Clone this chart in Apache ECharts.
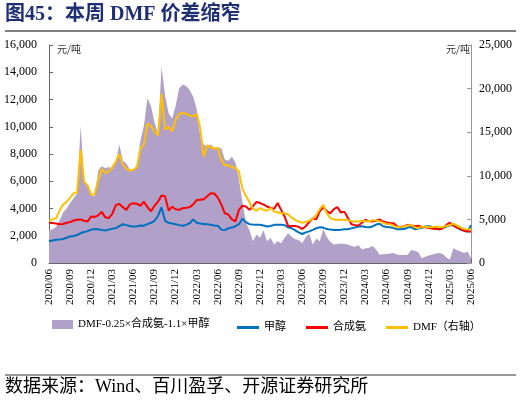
<!DOCTYPE html>
<html><head><meta charset="utf-8">
<script src="https://cdn.jsdelivr.net/npm/echarts@6/dist/echarts.min.js"></script>
<style>html,body{margin:0;padding:0;background:#fff}#c{width:521px;height:405px}</style>
</head><body><div id="c"></div>
<script>
var quarterLabels = ['2020/06','2020/09','2020/12','2021/03','2021/06','2021/09','2021/12','2022/03','2022/06','2022/09','2022/12','2023/03','2023/06','2023/09','2023/12','2024/03','2024/06','2024/09','2024/12','2025/03','2025/06'];

var spread = [2430,2450,2650,3100,3700,4000,4400,4750,5100,10100,6000,5600,5000,4900,6800,7100,6950,7050,6900,7400,8700,7500,7300,6850,6850,7200,9000,10100,12100,11500,10300,9500,14400,12300,11000,10600,11500,12800,13100,13000,12700,12200,11300,9300,8700,8550,8700,8450,8500,8400,7600,7500,7800,7400,6200,4500,3000,2400,1600,2100,1850,2400,1600,1850,1350,1600,1450,1850,2180,1930,1750,1680,1450,1900,2150,1350,1800,1600,2500,1900,1550,1350,1400,1440,1400,1350,1250,1200,1300,1000,1080,1120,1250,1000,600,650,660,700,730,600,590,580,600,950,900,780,350,450,550,620,700,730,660,400,250,1080,960,850,730,850,340];

var methanol = [1600,1650,1700,1730,1760,1850,1950,1980,2050,2200,2280,2350,2450,2500,2480,2420,2380,2450,2520,2560,2700,2850,2780,2720,2680,2700,2750,2740,2850,2950,3100,3450,4100,3100,2950,2900,2850,2780,2740,2800,2920,3200,2950,2900,2870,2840,2800,2760,2740,2450,2420,2550,2600,2700,2850,3250,3000,2850,2820,2800,2800,2750,2680,2720,2800,2800,2800,2780,2620,2550,2400,2250,2130,2250,2320,2430,2550,2620,2600,2490,2450,2430,2430,2440,2470,2480,2540,2600,2680,2700,2650,2620,2680,2820,2880,2700,2650,2620,2560,2480,2480,2490,2600,2640,2480,2530,2580,2680,2700,2640,2580,2480,2560,2670,2760,2780,2620,2450,2360,2300,2780];

var syngas = [2960,2930,2900,2850,2860,2950,3000,3120,3180,3200,3100,3050,3420,3380,3500,3750,3350,3300,3600,4250,4330,4100,3900,4300,4380,4350,4200,4500,4100,3800,4200,4500,4950,4900,3850,4140,3950,3900,4020,4050,4100,4300,4620,4650,4680,4900,5120,5100,4800,4300,3650,3560,3200,3050,3900,4200,4150,3900,4180,4480,4400,4280,4150,4050,3970,4400,3900,3400,2700,2720,2720,2650,2500,2700,3000,3280,3200,3800,4100,3800,3650,3950,4100,3700,3770,3300,2850,2780,2750,2950,3180,3060,3040,3100,3200,3040,2970,2940,2920,2680,2650,2700,2800,2760,2700,2740,2650,2620,2570,2530,2500,2480,2550,2800,2960,2750,2600,2500,2370,2330,2300];

var dmf = [4850,5000,5150,6000,6700,7000,7500,8000,8100,13000,9300,8900,7800,7900,9500,10800,10300,10500,11000,11600,12500,11300,10800,10600,10700,11000,13100,13600,16000,15700,15100,14600,19400,15300,15600,15100,16400,17100,17200,17100,16900,16800,17100,15500,12200,13500,13300,13100,13200,11800,11200,11200,11000,10900,10500,8500,7700,7000,6200,6000,6300,6100,6000,6300,5900,5800,5700,5700,5600,5200,4950,4750,4600,4700,4850,5100,5500,6200,6650,5700,5150,4980,4950,4950,4950,4900,4800,4750,4760,4850,4780,4780,4900,4880,4800,4620,4480,4450,4250,4100,4150,4200,4300,4350,4100,4000,4150,4150,4100,4120,4170,4150,4090,4250,4360,4500,4300,4090,3900,3860,3850];

var seriesNames = ['DMF-0.25×合成氨-1.1×甲醇','甲醇','合成氨','DMF（右轴）'];

var categories = [];
for (var i = 0; i < spread.length; i++) {
  categories.push(i % 6 === 0 ? quarterLabels[i / 6] : 'w' + i);
}

var serif = '"Liberation Serif","Times New Roman","Noto Sans CJK SC",serif';
var chart = echarts.init(document.getElementById('c'), null, {renderer: 'canvas'});
chart.setOption({
  animation: false,
  backgroundColor: '#fff',
  grid: {left: 49, right: 50, top: 45, bottom: 142, containLabel: false},
  graphic: [
    {type: 'text', left: 5, top: 5, style: {text: '图45：本周 DMF 价差缩窄', font: 'bold 20px "Liberation Serif", "Noto Sans CJK SC", serif', fill: '#1F2F74'}},
    {type: 'line', shape: {x1: 5, y1: 31, x2: 516, y2: 31}, style: {stroke: '#555', lineWidth: 1.5}},
    {type: 'line', shape: {x1: 5, y1: 375, x2: 516, y2: 375}, style: {stroke: '#333', lineWidth: 1}},
    {type: 'text', left: 5, top: 378, style: {text: '数据来源：Wind、百川盈孚、开源证券研究所', font: '18px "Liberation Serif", "Noto Sans CJK SC", serif', fill: '#000'}},
    {type: 'text', left: 57, top: 44, style: {text: '元/吨', font: '10px "Noto Sans CJK SC", sans-serif', fill: '#333'}},
    {type: 'text', left: 446, top: 44, style: {text: '元/吨', font: '10px "Noto Sans CJK SC", sans-serif', fill: '#333'}}
  ],
  legend: [
    {data: [{name: seriesNames[0], icon: 'rect'}], left: 47, top: 314, itemWidth: 21, itemHeight: 9, itemGap: 18,
     textStyle: {fontSize: 11, color: '#000', fontFamily: serif}},
    {data: [{name: seriesNames[1], icon: 'rect'}, {name: seriesNames[2], icon: 'rect'}, {name: seriesNames[3], icon: 'rect'}],
     left: 232, top: 317, itemWidth: 22, itemHeight: 3, itemGap: 20,
     textStyle: {fontSize: 11, color: '#000', fontFamily: serif}}
  ],
  xAxis: {
    type: 'category', data: categories, boundaryGap: false,
    axisLine: {lineStyle: {color: '#666', width: 1}},
    axisTick: {inside: true, length: 4, interval: 5, lineStyle: {color: '#666'}},
    axisLabel: {interval: 5, rotate: 90, fontSize: 11, color: '#000', fontFamily: serif, margin: 6,
      formatter: function (v) { return v.charAt(0) === 'w' ? '' : v; }}
  },
  yAxis: [
    {type: 'value', min: 0, max: 16000, interval: 2000,
     axisLine: {show: true, lineStyle: {color: '#666'}},
     axisTick: {show: true, inside: true, length: 4, lineStyle: {color: '#666'}},
     splitLine: {show: false},
     axisLabel: {fontSize: 12, color: '#000', fontFamily: serif, margin: 12,
       formatter: function (v) { return v.toLocaleString('en-US'); }}},
    {type: 'value', min: 0, max: 25000, interval: 5000, position: 'right',
     axisLine: {show: true, lineStyle: {color: '#999'}},
     axisTick: {show: true, inside: true, length: 4, lineStyle: {color: '#999'}},
     splitLine: {show: false},
     axisLabel: {fontSize: 12, color: '#000', fontFamily: serif, margin: 8,
       formatter: function (v) { return v.toLocaleString('en-US'); }}}
  ],
  series: [
    {name: seriesNames[0], type: 'line', data: spread, yAxisIndex: 0, symbol: 'none',
     lineStyle: {width: 0}, itemStyle: {color: '#B1A0C7'}, areaStyle: {color: '#B1A0C7', opacity: 1}},
    {name: seriesNames[1], type: 'line', data: methanol, yAxisIndex: 0, symbol: 'none',
     lineStyle: {width: 2, color: '#0070C0'}, itemStyle: {color: '#0070C0'}},
    {name: seriesNames[2], type: 'line', data: syngas, yAxisIndex: 0, symbol: 'none',
     lineStyle: {width: 2, color: '#FF0000'}, itemStyle: {color: '#FF0000'}},
    {name: seriesNames[3], type: 'line', data: dmf, yAxisIndex: 1, symbol: 'none',
     lineStyle: {width: 2, color: '#FFC000'}, itemStyle: {color: '#FFC000'}}
  ]
});
</script>
</body></html>
